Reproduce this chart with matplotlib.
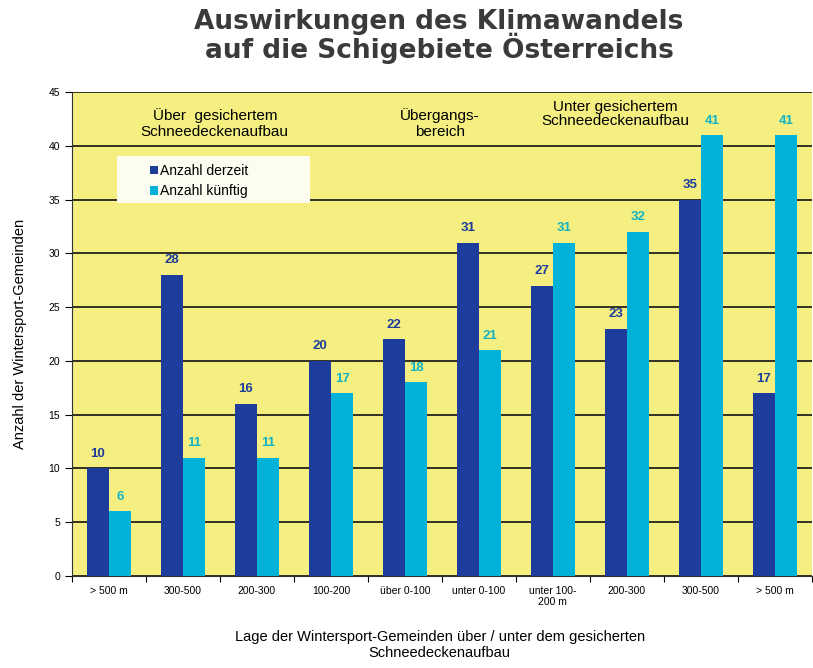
import matplotlib
matplotlib.use("Agg")
import matplotlib.pyplot as plt
from matplotlib.patches import Rectangle
import numpy as np

categories = ["> 500 m", "300-500", "200-300", "100-200", "über 0-100",
              "unter 0-100", "unter 100-\n200 m", "200-300", "300-500", "> 500 m"]
derzeit = [10, 28, 16, 20, 22, 31, 27, 23, 35, 17]
kuenftig = [6, 11, 11, 17, 18, 21, 31, 32, 41, 41]
group_labels = ["Über  gesichertem\nSchneedeckenaufbau", "Übergangs-\nbereich",
                "Unter gesichertem\nSchneedeckenaufbau"]

c_dark = "#1d3c9c"
c_light = "#00b2d8"
c_light_txt = "#12b2c4"
bg = "#f5ef82"

fig = plt.figure(figsize=(8.13, 6.68), dpi=100)
ax = fig.add_axes([0.0886, 0.138, 0.9100, 0.724])
ax.set_facecolor(bg)

x = np.arange(len(categories))
w = 0.3
ax.bar(x - w/2, derzeit, w, color=c_dark, label="Anzahl derzeit", zorder=3)
ax.bar(x + w/2, kuenftig, w, color=c_light, label="Anzahl künftig", zorder=3)

for xi, v in zip(x, derzeit):
    ax.text(xi - w/2, v + 0.8, str(v), ha="center", va="bottom", color=c_dark,
            fontsize=9.5, fontweight="bold", family="Liberation Sans", zorder=4)
for xi, v in zip(x, kuenftig):
    ax.text(xi + w/2, v + 0.8, str(v), ha="center", va="bottom", color=c_light_txt,
            fontsize=9.5, fontweight="bold", family="Liberation Sans", zorder=4)

ax.set_xlim(-0.5, len(categories) - 0.5)
ax.set_ylim(0, 45)
ax.set_yticks(range(0, 46, 5))
ax.yaxis.grid(True, color="#111111", linewidth=1.2, zorder=1)
ax.set_axisbelow(True)
ax.set_xticks(np.arange(-0.5, len(categories), 1.0), minor=False)
ax.set_xticklabels([])
ax.set_xticks(x, minor=True)
ax.set_xticklabels(categories, minor=True, fontsize=7.5, family="Liberation Sans")
ax.tick_params(axis="x", which="minor", length=0, pad=7)
ax.tick_params(axis="x", which="major", length=4, direction="out")
ax.tick_params(axis="y", labelsize=7.5, length=5)
for lab in ax.get_yticklabels():
    lab.set_family("Liberation Sans")
for s in ["top", "right"]:
    ax.spines[s].set_visible(False)
ax.spines["left"].set_color("#333333")
ax.spines["bottom"].set_color("#333333")

ax.set_ylabel("Anzahl der Wintersport-Gemeinden", fontsize=10.5, family="Liberation Sans")
ax.yaxis.set_label_coords(-0.061, 0.5)
ax.set_xlabel("Lage der Wintersport-Gemeinden über / unter dem gesicherten\nSchneedeckenaufbau",
              fontsize=10.5, family="Liberation Sans", va="center")
ax.xaxis.set_label_coords(0.497, -0.143)

for gx, gy, txt in zip([1.43, 4.47, 6.84], [42.1, 42.1, 42.95], group_labels):
    ax.text(gx, gy, txt, ha="center", va="center", fontsize=11,
            family="Liberation Sans", linespacing=1.0 if gx > 6 else 1.15, zorder=2)

ax.add_patch(Rectangle((0.0608, 0.7707), 0.261, 0.097, transform=ax.transAxes,
                       facecolor="#fdfcf0", edgecolor="none", zorder=2.5))
leg = ax.legend(loc="upper left", bbox_to_anchor=(0.092, 0.872),
                frameon=False, handlelength=0.6, handleheight=0.6,
                handletextpad=0.15, borderpad=0.2, labelspacing=0.45,
                prop={"family": "Liberation Sans", "size": 10})
leg.set_zorder(5)

fig.text(0.540, 0.9865, "Auswirkungen des Klimawandels\nauf die Schigebiete Österreichs",
         ha="center", va="top", fontsize=19, fontweight="bold", color="#3a3a3a",
         family="DejaVu Sans", linespacing=0.9)

fig.savefig("out.png", dpi=100)
